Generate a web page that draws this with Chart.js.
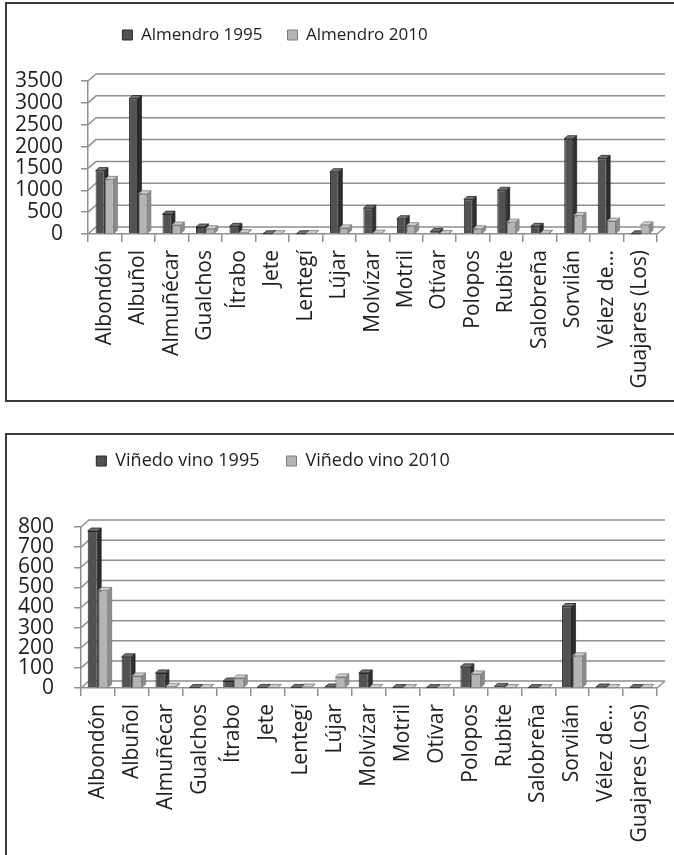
<!DOCTYPE html>
<html>
<head>
<meta charset="utf-8">
<script src="https://cdn.jsdelivr.net/npm/chart.js@4"></script>
<style>
  body { margin: 0; background: #fff; overflow: hidden; }
  .box { position: absolute; left: 5px; width: 690px; border: 2px solid #3a3a3a; box-sizing: border-box; }
  #box1 { top: 2px; height: 400px; }
  #box2 { top: 433px; height: 440px; }
  canvas { display: block; }
</style>
</head>
<body>
<div class="box" id="box1"><canvas id="almendro" width="667" height="396"></canvas></div>
<div class="box" id="box2"><canvas id="vinedo" width="667" height="420"></canvas></div>
<script>
// Municipios (eje X, igual en los dos gráficos)
const municipios = ['Albondón', 'Albuñol', 'Almuñécar', 'Gualchos', 'Ítrabo', 'Jete', 'Lentegí', 'Lújar',
  'Molvízar', 'Motril', 'Otívar', 'Polopos', 'Rubite', 'Salobreña', 'Sorvilán', 'Vélez de...', 'Guajares (Los)'];

// Almendro (ha)
const almendro1995 = [1450, 3100, 455, 160, 175, 5, 5, 1425, 590, 350, 60, 790, 1000, 175, 2180, 1730, 3];
const almendro2010 = [1250, 920, 205, 120, 30, 5, 10, 140, 20, 190, 10, 120, 270, 15, 425, 295, 210];

// Viñedo vino (ha)
const vino1995 = [780, 155, 75, 2, 35, 3, 3, 5, 75, 2, 2, 105, 8, 2, 405, 5, 2];
const vino2010 = [485, 60, 8, 2, 50, 3, 5, 55, 3, 2, 2, 70, 2, 2, 160, 2, 3];

const GRID = '#8f8f8f';
const TEXT = '#1e1e1e';
const DARK = { face: '#525252', side: '#2e2e2e', top: '#737373', line: '#262626' };
const LIGHT = { face: '#b4b4b4', side: '#8c8c8c', top: '#d0d0d0', line: '#7a7a7a' };

// Plugin: paredes y caras laterales tipo 3D, y recolocar la leyenda
const depthPlugin = {
  id: 'depth',
  afterLayout(chart, args, opts) {
    const lg = chart.legend;
    const dx = opts.legendX - (lg.left + lg.right) / 2;
    const dy = opts.legendY - (lg.top + opts.legendPad + opts.legendFont / 2);
    lg.left += dx; lg.right += dx;
    lg.top += dy; lg.bottom += dy;
  },
  beforeDatasetsDraw(chart, args, opts) {
    const ctx = chart.ctx;
    const a = chart.chartArea;
    const ys = chart.scales.y;
    ctx.save();
    ctx.strokeStyle = GRID;
    ctx.lineWidth = 1.5;
    ys.ticks.forEach(t => {
      const py = ys.getPixelForValue(t.value);
      ctx.beginPath();
      ctx.moveTo(a.left, py);
      ctx.lineTo(a.left + opts.gx, py - opts.gy);
      ctx.lineTo(a.right + opts.gx, py - opts.gy);
      ctx.stroke();
    });
    // borde derecho del suelo
    const base = ys.getPixelForValue(0);
    ctx.beginPath();
    ctx.moveTo(a.right, base);
    ctx.lineTo(a.right + opts.gx, base - opts.gy);
    ctx.stroke();

    // caras laterales y superiores de las barras
    ctx.lineWidth = 0.8;
    chart.data.datasets.forEach((ds, i) => {
      const pal = i === 0 ? DARK : LIGHT;
      chart.getDatasetMeta(i).data.forEach(bar => {
        const p = bar.getProps(['x', 'y', 'base', 'width'], true);
        const l = p.x - p.width / 2, r = p.x + p.width / 2;
        ctx.strokeStyle = pal.line;
        ctx.fillStyle = pal.side;
        ctx.beginPath();
        ctx.moveTo(r, p.y);
        ctx.lineTo(r + opts.bx, p.y - opts.by);
        ctx.lineTo(r + opts.bx, p.base - opts.by);
        ctx.lineTo(r, p.base);
        ctx.closePath();
        ctx.fill(); ctx.stroke();
        ctx.fillStyle = pal.top;
        ctx.beginPath();
        ctx.moveTo(l, p.y);
        ctx.lineTo(l + opts.bx, p.y - opts.by);
        ctx.lineTo(r + opts.bx, p.y - opts.by);
        ctx.lineTo(r, p.y);
        ctx.closePath();
        ctx.fill(); ctx.stroke();
      });
    });
    ctx.restore();
  }
};

function makeChart(id, names, serieA, serieB, cfg) {
  const tickFont = { family: 'Open Sans', size: 21 };
  return new Chart(document.getElementById(id), {
    type: 'bar',
    data: {
      labels: municipios,
      datasets: [
        { label: names[0], data: serieA, backgroundColor: DARK.face, borderColor: DARK.line, borderWidth: 1,
          categoryPercentage: cfg.catPct, barPercentage: 0.95 },
        { label: names[1], data: serieB, backgroundColor: LIGHT.face, borderColor: LIGHT.line, borderWidth: 1,
          categoryPercentage: cfg.catPct, barPercentage: 0.95 }
      ]
    },
    options: {
      responsive: false,
      animation: false,
      devicePixelRatio: 1,
      layout: { padding: { top: cfg.padTop, right: cfg.padRight, left: 0, bottom: 0 } },
      plugins: {
        tooltip: { enabled: false },
        legend: {
          position: 'top',
          labels: {
            boxWidth: 10, boxHeight: 10, padding: cfg.legendPad, color: TEXT,
            font: { family: 'Open Sans', size: cfg.legendFont }
          }
        },
        depth: {
          gx: 8, gy: 7, bx: 3.5, by: 3,
          legendX: cfg.legendX, legendY: cfg.legendY, legendPad: cfg.legendPad, legendFont: cfg.legendFont
        }
      },
      scales: {
        x: {
          grid: { drawOnChartArea: false, tickLength: 8, color: GRID, lineWidth: 1.5 },
          border: { color: GRID, width: 1.5 },
          ticks: { minRotation: 90, maxRotation: 90, autoSkip: false, padding: 8, color: TEXT, font: tickFont },
          afterFit: s => { s.height = cfg.xHeight; }
        },
        y: {
          min: 0, max: cfg.max,
          grid: { drawOnChartArea: false, tickLength: 7, color: GRID, lineWidth: 1.5 },
          border: { color: GRID, width: 1.5 },
          ticks: {
            stepSize: cfg.step, autoSkip: false, padding: cfg.yPad, color: TEXT, font: tickFont,
            callback: v => String(v)
          },
          afterFit: s => { s.width = cfg.yWidth; }
        }
      }
    },
    plugins: [depthPlugin]
  });
}

makeChart('almendro', ['Almendro 1995', 'Almendro 2010'], almendro1995, almendro2010, {
  max: 3500, step: 500, catPct: 0.56, padTop: 25, padRight: 16, xHeight: 166, yWidth: 81, yPad: 18,
  legendPad: 25, legendFont: 17, legendX: 268, legendY: 31
});

makeChart('vinedo', ['Viñedo vino 1995', 'Viñedo vino 2010'], vino1995, vino2010, {
  max: 800, step: 100, catPct: 0.62, padTop: 37, padRight: 17, xHeight: 167, yWidth: 74, yPad: 20,
  legendPad: 27, legendFont: 18, legendX: 266, legendY: 26
});
</script>
</body>
</html>
